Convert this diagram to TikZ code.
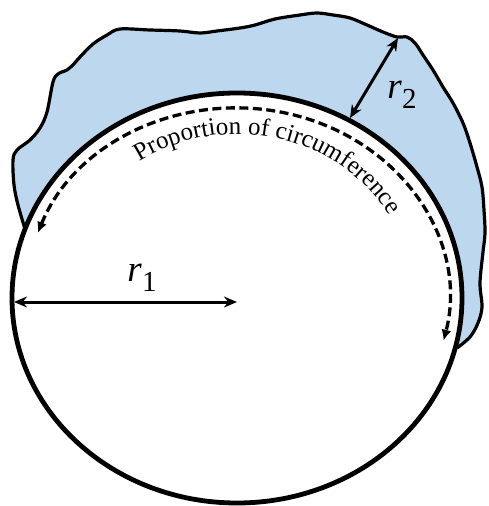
\documentclass[tikz,border=0pt]{standalone}
\usepackage{fontspec}
\setmainfont{Liberation Serif}
\usetikzlibrary{arrows.meta,decorations.text}
\definecolor{blobblue}{RGB}{189,215,238}
\tikzset{
  outline/.style={line width=4.8pt},
  blobline/.style={line width=3.2pt, line join=round},
  dimarrow/.style={line width=3pt, {Stealth[length=13pt,width=11pt]}-{Stealth[length=13pt,width=11pt]}},
  arcarrow/.style={line width=3.3pt, dash pattern=on 9pt off 4.5pt, {Latex[length=11pt,width=10pt]}-{Latex[length=11pt,width=10pt]}},
  radlabel/.style={font=\fontsize{37}{37}\selectfont, inner sep=0pt},
}
\newcommand{\rsub}[1]{\textit{r}\raisebox{-0.26em}{\fontsize{29}{29}\selectfont #1}}

\begin{document}
\begin{tikzpicture}[x=1pt,y=1pt]
\useasboundingbox (-237,-208) rectangle (252,298);

% ===== Outer layer (irregular) =====
\filldraw[fill=blobblue, blobline] plot[smooth, tension=0.55] coordinates {
  (-212,69) (-219,93) (-223,113) (-224,138) (-220,148) (-207,158)
  (-197,170) (-190,186) (-184,216) (-179,224) (-170,228) (-165,232)
  (-157,241) (-144,254) (-130,263) (-117,269) (-87,268) (-57,267)
  (-37,265) (-20,267) (3,270) (18,273) (38,279) (63,283) (80,285)
  (96,283) (113,280) (130,273) (146,266) (160,261) (170,261) (178,255)
  (186,243) (196,228) (206,211) (216,195) (226,175) (233,155) (240,131)
  (245,111) (247,88) (248,65) (246,46) (243,15) (245,-9) (241,-25)
  (233,-39) (220,-50)};

% ===== Inner disc =====
\draw[outline, fill=white] (0,0) ellipse [x radius=225pt, y radius=205pt];

% ===== Proportion of circumference =====
\coordinate (arcstart) at (160:212pt and 190pt);
\draw[arcarrow] (arcstart) arc[start angle=160, end angle=-13, x radius=212pt, y radius=190pt];
\path[decorate, decoration={text along path, text align=center,
  text={|\fontsize{25}{25}\selectfont|Proportion of circumference}}]
  (150:176pt and 164pt) arc[start angle=150, end angle=3, x radius=176pt, y radius=164pt];

% ===== Radii =====
\coordinate (leftedge) at (-223,-4);
\coordinate (centre) at (0,-4);
\draw[dimarrow] (leftedge) -- (centre);
\node[radlabel] (rone) at (-95,20) {\rsub{1}};

\coordinate (blobedge) at (161,260);
\coordinate (discedge) at (113,180);
\draw[dimarrow] (blobedge) -- (discedge);
\node[radlabel] (rtwo) at (165,203) {\rsub{2}};

\end{tikzpicture}
\end{document}
